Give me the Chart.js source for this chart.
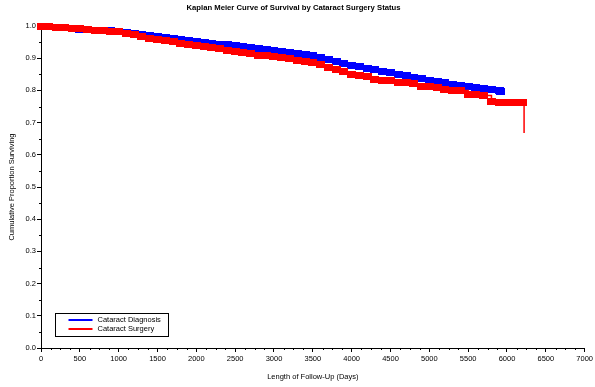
<!DOCTYPE html>
<html>
<head>
<meta charset="utf-8">
<script src="https://cdn.jsdelivr.net/npm/chart.js@4/dist/chart.umd.min.js"></script>
<style>
  html, body { margin: 0; padding: 0; background: #fff; }
  #wrap { position: relative; width: 595px; height: 387px; }
</style>
</head>
<body>
<div id="wrap"><canvas id="kmChart" width="595" height="387"></canvas></div>
<script>
// Kaplan-Meier estimates (days, proportion surviving)
const diagDays = [0, 100, 200, 300, 400, 500, 600, 700, 800, 900, 1000, 1100, 1200, 1300, 1400, 1500, 1600, 1700, 1800, 1900,
    2000, 2100, 2200, 2300, 2400, 2500, 2600, 2700, 2800, 2900, 3000, 3100, 3200, 3300, 3400, 3500, 3600, 3700, 3800, 3900,
    4000, 4100, 4200, 4300, 4400, 4500, 4600, 4700, 4800, 4900, 5000, 5100, 5200, 5300, 5400, 5500, 5600, 5700, 5800, 5900, 5920];
const diagSurv = [1.000, 0.998, 0.996, 0.994, 0.992, 0.990, 0.989, 0.987, 0.986, 0.985, 0.983, 0.980, 0.977, 0.974, 0.970, 0.967, 0.964, 0.961, 0.958, 0.955,
    0.953, 0.950, 0.947, 0.944, 0.942, 0.939, 0.936, 0.933, 0.930, 0.927, 0.924, 0.921, 0.918, 0.914, 0.911, 0.907, 0.901, 0.895, 0.889, 0.883,
    0.877, 0.873, 0.868, 0.864, 0.860, 0.855, 0.850, 0.845, 0.840, 0.836, 0.832, 0.828, 0.824, 0.819, 0.815, 0.811, 0.808, 0.805, 0.802, 0.799, 0.798];

const surgDays = [0, 100, 200, 300, 400, 500, 600, 700, 800, 900, 1000, 1100, 1200, 1300, 1400, 1500, 1600, 1700, 1800, 1900,
    2000, 2100, 2200, 2300, 2400, 2500, 2600, 2700, 2800, 2900, 3000, 3100, 3200, 3300, 3400, 3500, 3600, 3700, 3800, 3900,
    4000, 4100, 4200, 4300, 4400, 4500, 4600, 4700, 4800, 4900, 5000, 5100, 5200, 5300, 5400, 5500, 5600, 5700, 5800, 5900,
    6000, 6100, 6200, 6220];
const surgSurv = [1.000, 0.998, 0.996, 0.994, 0.992, 0.991, 0.989, 0.987, 0.986, 0.984, 0.982, 0.978, 0.973, 0.968, 0.962, 0.957, 0.954, 0.951, 0.947, 0.943,
    0.940, 0.936, 0.933, 0.929, 0.925, 0.922, 0.918, 0.914, 0.910, 0.907, 0.904, 0.901, 0.898, 0.894, 0.891, 0.888, 0.880, 0.871, 0.864, 0.858,
    0.851, 0.847, 0.842, 0.835, 0.831, 0.830, 0.826, 0.824, 0.821, 0.813, 0.812, 0.810, 0.802, 0.801, 0.800, 0.787, 0.786, 0.784, 0.765, 0.764,
    0.764, 0.764, 0.763, 0.668];

const seriesNames = ['Cataract Diagnosis', 'Cataract Surgery'];
const seriesColors = ['#0000ff', '#ff0000'];

const xMax = 7000, xStep = 500, xMinor = 125;
const yMax = 1.0, yStep = 0.1, yMinor = 0.05;

function toPoints(days, surv) {
    return days.map((d, i) => ({ x: d, y: surv[i] }));
}

// censor mark: a short wide block in the series colour
function censorMark(color, w, h) {
    const c = document.createElement('canvas');
    c.width = w;
    c.height = h;
    const g = c.getContext('2d');
    g.fillStyle = color;
    g.fillRect(0, 0, w, h);
    return c;
}

// small tick marks between the labelled ones
const minorTicks = {
    id: 'minorTicks',
    afterDraw(chart) {
        const { ctx, scales: { x, y } } = chart;
        ctx.save();
        ctx.strokeStyle = '#000';
        ctx.lineWidth = 1;
        ctx.beginPath();
        for (let d = xMinor; d < xMax; d += xMinor) {
            if (d % xStep === 0) continue;
            const px = Math.round(x.getPixelForValue(d)) + 0.5;
            ctx.moveTo(px, y.bottom);
            ctx.lineTo(px, y.bottom + 2);
        }
        for (let k = 1; k < Math.round(yMax / yMinor); k += 2) {
            const py = Math.round(y.getPixelForValue(k * yMinor)) + 0.5;
            ctx.moveTo(x.left, py);
            ctx.lineTo(x.left - 2, py);
        }
        ctx.stroke();
        ctx.restore();
    }
};

// boxed legend sitting inside the plot, bottom left
const boxLegend = {
    id: 'boxLegend',
    afterDraw(chart) {
        const { ctx } = chart;
        const bx = 55.5, by = 313.5, bw = 113, bh = 23;
        ctx.save();
        ctx.strokeStyle = '#000';
        ctx.lineWidth = 1;
        ctx.strokeRect(bx, by, bw, bh);
        ctx.font = '7.5px "Liberation Sans", Arial, sans-serif';
        ctx.textBaseline = 'middle';
        seriesNames.forEach((name, i) => {
            const ly = by + 6.5 + i * 9;
            ctx.strokeStyle = seriesColors[i];
            ctx.lineWidth = 2;
            ctx.beginPath();
            ctx.moveTo(bx + 13, ly);
            ctx.lineTo(bx + 37, ly);
            ctx.stroke();
            ctx.fillStyle = '#000';
            ctx.fillText(name, bx + 42, ly);
        });
        ctx.restore();
    }
};

function makeDataset(i, days, surv, order) {
    const last = days.length - 1;
    const mark = censorMark(seriesColors[i], 9, 7);
    return {
        label: seriesNames[i],
        data: toPoints(days, surv),
        borderColor: seriesColors[i],
        backgroundColor: seriesColors[i],
        borderWidth: 1.5,
        stepped: true,
        pointStyle: mark,
        pointRadius: ctx => (i === 1 && ctx.dataIndex === last) ? 0 : 4,
        pointBorderWidth: 0,
        clip: false,
        order: order
    };
}

const tickFont = { family: '"Liberation Sans", Arial, sans-serif', size: 7.5 };

new Chart(document.getElementById('kmChart'), {
    type: 'line',
    data: {
        datasets: [
            makeDataset(0, diagDays, diagSurv, 1),
            makeDataset(1, surgDays, surgSurv, 0)
        ]
    },
    options: {
        responsive: false,
        animation: false,
        events: [],
        layout: { padding: { top: 0, right: 8, left: 0, bottom: 0 } },
        plugins: {
            legend: { display: false },
            tooltip: { enabled: false },
            title: {
                display: true,
                text: 'Kaplan Meier Curve of Survival by Cataract Surgery Status',
                color: '#000',
                font: { family: '"Liberation Sans", Arial, sans-serif', size: 7.7, weight: 'bold' },
                padding: { top: 3, bottom: 13.8 }
            }
        },
        scales: {
            x: {
                type: 'linear',
                min: 0,
                max: xMax,
                afterFit: s => { s.height = 39; },
                ticks: { stepSize: xStep, color: '#000', font: tickFont, padding: 2, maxRotation: 0, callback: v => String(v) },
                grid: { drawOnChartArea: false, color: '#000', tickColor: '#000', tickLength: 4 },
                border: { color: '#000', width: 1 },
                title: {
                    display: true,
                    text: 'Length of Follow-Up (Days)',
                    color: '#000',
                    font: { family: '"Liberation Sans", Arial, sans-serif', size: 7.5 },
                    padding: { top: 0, bottom: 6 }
                }
            },
            y: {
                min: 0,
                max: yMax,
                afterFit: s => { s.width = 41; },
                ticks: { stepSize: yStep, color: '#000', font: tickFont, padding: 1, callback: v => v.toFixed(1) },
                grid: { drawOnChartArea: false, color: '#000', tickColor: '#000', tickLength: 4 },
                border: { color: '#000', width: 1 },
                title: {
                    display: true,
                    text: 'Cumulative Proportion Surviving',
                    color: '#000',
                    font: { family: '"Liberation Sans", Arial, sans-serif', size: 7.5 },
                    padding: { top: 7.5, bottom: 0 }
                }
            }
        }
    },
    plugins: [minorTicks, boxLegend]
});
</script>
</body>
</html>
